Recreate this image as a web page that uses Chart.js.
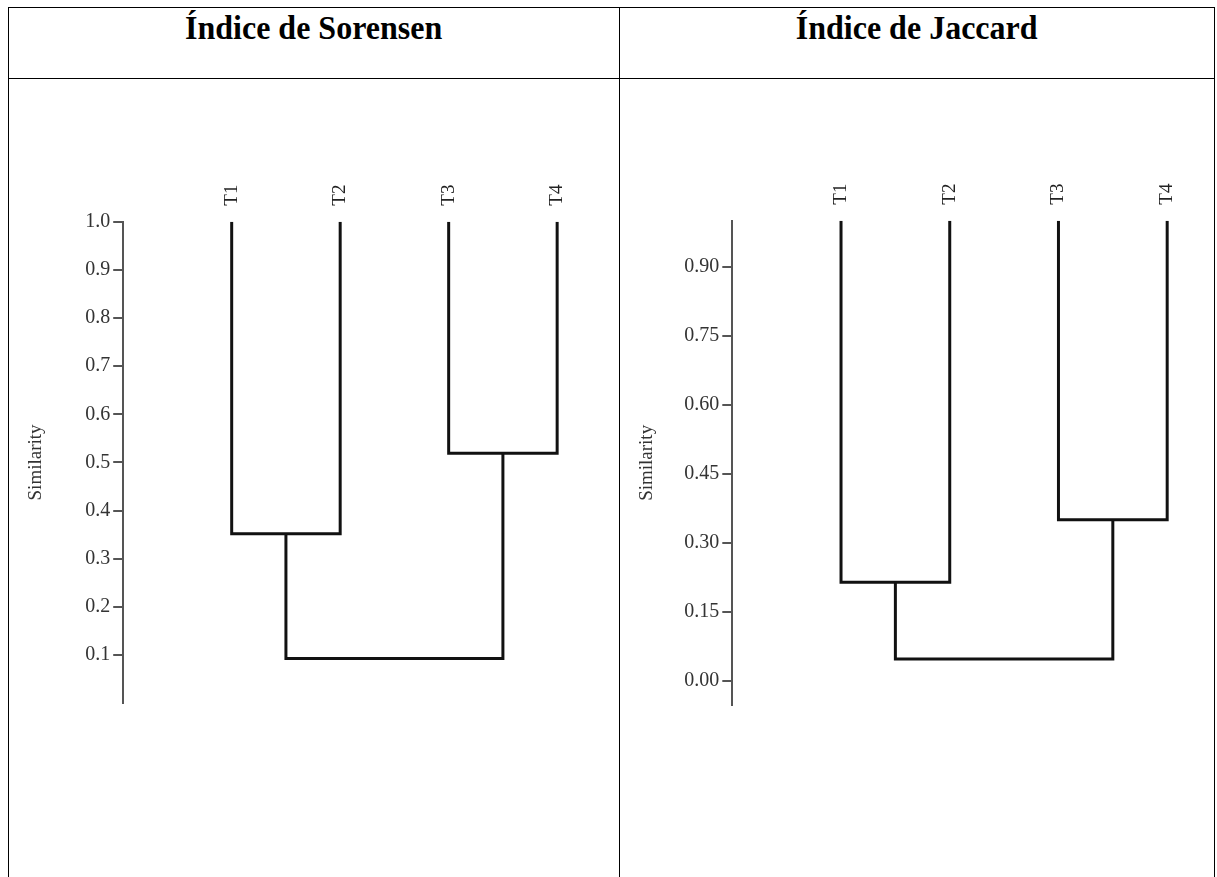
<!DOCTYPE html>
<html>
<head>
<meta charset="utf-8">
<script src="https://cdn.jsdelivr.net/npm/chart.js@4/dist/chart.umd.min.js"></script>
<style>
  html, body { margin: 0; padding: 0; background: #fff; }
  body { width: 1217px; height: 877px; position: relative; overflow: hidden; }
  .line { position: absolute; background: #000; }
  .head {
    position: absolute; top: 12px; height: 40px;
    font-family: "Liberation Serif", "Times New Roman", serif;
    font-weight: bold; font-size: 33px; line-height: 33px;
    text-align: center; color: #000; white-space: nowrap;
  }
  .head span { display: inline-block; transform: scaleX(0.97); }
  canvas { position: absolute; top: 0; }
</style>
</head>
<body>
<div class="head" style="left:8px;width:611px;"><span>Índice de Sorensen</span></div>
<div class="head" style="left:619px;width:595px;"><span>Índice de Jaccard</span></div>

<div id="wrapS" style="position:absolute;left:0;top:0;width:619px;height:877px;"><canvas id="sorensen"></canvas></div>
<div id="wrapJ" style="position:absolute;left:619px;top:0;width:598px;height:877px;"><canvas id="jaccard"></canvas></div>

<!-- table rules -->
<div class="line" style="left:8px;top:7px;width:1207px;height:1px;"></div>
<div class="line" style="left:8px;top:78px;width:1207px;height:1px;"></div>
<div class="line" style="left:8px;top:7px;width:1px;height:870px;"></div>
<div class="line" style="left:619px;top:7px;width:1px;height:870px;"></div>
<div class="line" style="left:1214px;top:7px;width:1px;height:870px;"></div>

<script>
// Samples (leaves of both dendrograms)
const leaves = ['T1', 'T2', 'T3', 'T4'];

// Merge similarities: [T1+T2, T3+T4, (T1,T2)+(T3,T4)]
const sorensenMerges = [0.352, 0.519, 0.093];
const jaccardMerges  = [0.214, 0.350, 0.047];

// Y-axis ticks
const sorensenTicks = [0.1, 0.2, 0.3, 0.4, 0.5, 0.6, 0.7, 0.8, 0.9, 1.0];
const jaccardTicks  = [0.00, 0.15, 0.30, 0.45, 0.60, 0.75, 0.90];

const LEAF_SIM = 1.0;
const SERIF = '"Liberation Serif", "Times New Roman", serif';

// Build the dendrogram's elbow segments from the merge heights
function dendroSegments(m) {
  const [h12, h34, hRoot] = m;
  const mid12 = (0 + 1) / 2, mid34 = (2 + 3) / 2;
  return [
    [{x: 0, y: LEAF_SIM}, {x: 0, y: h12}, {x: 1, y: h12}, {x: 1, y: LEAF_SIM}],
    [{x: 2, y: LEAF_SIM}, {x: 2, y: h34}, {x: 3, y: h34}, {x: 3, y: LEAF_SIM}],
    [{x: mid12, y: h12}, {x: mid12, y: hRoot}, {x: mid34, y: hRoot}, {x: mid34, y: h34}]
  ];
}

// Leaf names written vertically above each branch
const leafLabels = {
  id: 'leafLabels',
  afterDraw(chart) {
    const {ctx, chartArea} = chart;
    const xs = chart.scales.x;
    ctx.save();
    ctx.fillStyle = '#222';
    ctx.font = '19px ' + SERIF;
    ctx.textAlign = 'left';
    ctx.textBaseline = 'middle';
    leaves.forEach((name, i) => {
      const px = xs.getPixelForValue(i);
      ctx.save();
      ctx.translate(px, chartArea.top - 16);
      ctx.rotate(-Math.PI / 2);
      ctx.fillText(name, 0, 0);
      ctx.restore();
    });
    ctx.restore();
  }
};

function makeChart(id, merges, ticks, decimals, cfg) {
  const datasets = dendroSegments(merges).map(seg => ({
    data: seg,
    borderColor: '#111',
    borderWidth: 3,
    pointRadius: 0,
    tension: 0,
    fill: false,
    borderJoinStyle: 'miter'
  }));
  return new Chart(document.getElementById(id), {
    type: 'line',
    data: { datasets },
    options: {
      responsive: true,
      maintainAspectRatio: false,
      animation: false,
      events: [],
      layout: { padding: cfg.padding },
      plugins: { legend: { display: false }, tooltip: { enabled: false }, title: { display: false } },
      scales: {
        x: { type: 'linear', display: false, min: -1, max: cfg.xMax },
        y: {
          type: 'linear',
          min: cfg.yMin, max: cfg.yMax,
          afterFit: s => { s.width = cfg.axisWidth; },
          afterBuildTicks: s => { s.ticks = ticks.map(v => ({ value: v })); },
          border: { display: true, color: '#555', width: 2 },
          grid: { drawOnChartArea: false, drawTicks: true, tickLength: 10, color: '#555', lineWidth: 2 },
          ticks: {
            color: '#333',
            padding: 3,
            font: { family: SERIF, size: 20 },
            callback: v => Number(v).toFixed(decimals)
          },
          title: {
            display: true,
            text: 'Similarity',
            color: '#333',
            padding: 0,
            font: { family: SERIF, size: 19 }
          }
        }
      }
    },
    plugins: [leafLabels]
  });
}

makeChart('sorensen', sorensenMerges, sorensenTicks, 1, {
  padding: { left: 24.6, top: 221.7, bottom: 877 - 703.2, right: 29.3 },
  axisWidth: 123.2 - 24.6,
  xMax: 3.3, yMin: 0, yMax: 1.0
});

makeChart('jaccard', jaccardMerges, jaccardTicks, 2, {
  padding: { left: 16.6, top: 220.7, bottom: 877 - 705, right: 17.2 },
  axisWidth: 113.3 - 16.6,
  xMax: 3.3, yMin: -0.053, yMax: 1.0
});
</script>
</body>
</html>
